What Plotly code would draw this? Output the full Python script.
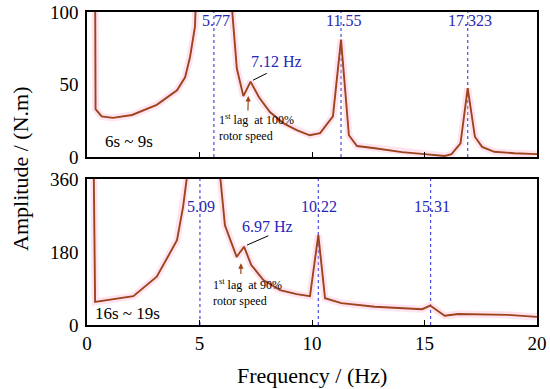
import plotly.graph_objects as go

# ---------------- data ----------------
freq_top = [0.0, 0.3, 0.38, 0.65, 1.15, 2.0, 3.1, 4.0, 4.36, 4.58, 4.8, 5.0, 5.64, 6.3, 6.66,
            6.95, 7.27, 7.65, 8.13, 8.72, 9.32, 9.9, 10.36, 10.93, 11.29, 11.64, 12.0,
            12.8, 14.0, 15.0, 15.9, 16.2, 16.6, 16.92, 17.24, 17.56, 18.1, 19.0, 20.0]
amp_top = [600, 400, 33, 28, 27, 29, 36, 46, 55, 69, 90, 130, 500, 130, 61,
           42, 52, 41, 31, 23.4, 18.6, 15, 16.5, 28, 81, 15, 7.6,
           6, 3.4, 2, 0.7, 2, 9.4, 47.5, 14, 7, 3.6, 2.6, 2]

freq_bot = [0.0, 0.2, 0.36, 2.06, 3.1, 4.0, 4.27, 4.43, 4.7, 5.02, 5.5, 5.93, 6.13, 6.36,
            6.65, 6.98, 7.3, 7.84, 8.58, 9.32, 9.91, 10.28, 10.58, 11.3, 12.8, 14.9,
            15.25, 15.9, 16.5, 18.7, 20.0]
amp_bot = [2000, 900, 57, 71, 119, 209, 291, 360, 700, 1500, 700, 360, 246, 212,
           168, 193, 148, 111, 86, 76, 71, 222, 66, 54, 45, 39,
           48, 23, 27, 25, 20]

peak_lines_top = [5.64, 11.29, 16.92]
peak_labels_top = ["5.77", "11.55", "17.323"]
peak_lines_bot = [5.02, 10.28, 15.27]
peak_labels_bot = ["5.09", "10.22", "15.31"]

x_ticks = [0, 5, 10, 15, 20]
y_ticks_top = [0, 50, 100]
y_ticks_bot = [0, 180, 360]

# ---------------- style ----------------
SERIF = "Liberation Serif, Times New Roman, serif"
LINE_C = "#9c451d"
HALO_C = "rgba(255,175,210,0.35)"
BLUE_T = "#2626b8"
BLUE_L = "#4a4ae0"

fig = go.Figure()

for xs, ys, xa, ya in [(freq_top, amp_top, "x", "y"), (freq_bot, amp_bot, "x2", "y2")]:
    fig.add_trace(go.Scatter(x=xs, y=ys, xaxis=xa, yaxis=ya, mode="lines",
                             line=dict(color=HALO_C, width=7), hoverinfo="skip",
                             showlegend=False))
    fig.add_trace(go.Scatter(x=xs, y=ys, xaxis=xa, yaxis=ya, mode="lines",
                             line=dict(color=LINE_C, width=1.9), showlegend=False))

shapes = []
annotations = []

# dotted peak lines + labels
for xv, lab in zip(peak_lines_top, peak_labels_top):
    shapes.append(dict(type="line", xref="x", yref="y domain", x0=xv, x1=xv, y0=0, y1=1,
                       line=dict(color=BLUE_L, width=1.2, dash="dot"), layer="below"))
    annotations.append(dict(x=xv + 0.1, y=94, xref="x", yref="y", text=lab, showarrow=False,
                            font=dict(family=SERIF, size=16, color=BLUE_T)))
for xv, lab in zip(peak_lines_bot, peak_labels_bot):
    shapes.append(dict(type="line", xref="x2", yref="y2 domain", x0=xv, x1=xv, y0=0, y1=1,
                       line=dict(color=BLUE_L, width=1.2, dash="dot"), layer="below"))
    annotations.append(dict(x=xv + 0.05, y=293, xref="x2", yref="y2", text=lab, showarrow=False,
                            font=dict(family=SERIF, size=16, color=BLUE_T)))

# 1st lag annotations (top)
annotations.append(dict(x=8.43, y=66, xref="x", yref="y", text="7.12 Hz", showarrow=False,
                        font=dict(family=SERIF, size=16, color=BLUE_T)))
shapes.append(dict(type="line", xref="x", yref="y", x0=7.38, y0=53, x1=7.99, y1=57.7,
                   line=dict(color="black", width=1)))
annotations.append(dict(x=7.17, y=42, ax=7.15, ay=31, xref="x", yref="y", axref="x", ayref="y",
                        text="", showarrow=True, arrowhead=2, arrowsize=0.9, arrowwidth=1.2,
                        arrowcolor=LINE_C))
annotations.append(dict(x=5.76, y=20.3, xref="x", yref="y", xanchor="left", yanchor="middle",
                        align="left", showarrow=False,
                        text="1<sup>st</sup> lag  at 100%<br>rotor speed",
                        font=dict(family=SERIF, size=12, color="black")))
annotations.append(dict(x=0.71, y=11, xref="x", yref="y", xanchor="left", text="6s ~ 9s",
                        showarrow=False, font=dict(family=SERIF, size=17, color="black")))

# 1st lag annotations (bottom)
annotations.append(dict(x=8.04, y=242, xref="x2", yref="y2", text="6.97 Hz", showarrow=False,
                        font=dict(family=SERIF, size=16, color=BLUE_T)))
shapes.append(dict(type="line", xref="x2", yref="y2", x0=7.11, y0=197, x1=8.06, y1=220,
                   line=dict(color="black", width=1)))
annotations.append(dict(x=6.84, y=152, ax=6.84, ay=122, xref="x2", yref="y2", axref="x2", ayref="y2",
                        text="", showarrow=True, arrowhead=2, arrowsize=0.9, arrowwidth=1.2,
                        arrowcolor=LINE_C))
annotations.append(dict(x=5.5, y=79, xref="x2", yref="y2", xanchor="left", yanchor="middle",
                        align="left", showarrow=False,
                        text="1<sup>st</sup> lag  at 90%<br>rotor speed",
                        font=dict(family=SERIF, size=12, color="black")))
annotations.append(dict(x=0.27, y=28, xref="x2", yref="y2", xanchor="left", text="16s ~ 19s",
                        showarrow=False, font=dict(family=SERIF, size=17, color="black")))

# axis titles
annotations.append(dict(x=-0.148, y=0.5, xref="paper", yref="paper", xanchor="center",
                        yanchor="middle", text="Amplitude / (N.m)",
                        textangle=-90, showarrow=False,
                        font=dict(family=SERIF, size=22, color="black")))
annotations.append(dict(x=0.5, y=-0.16, xref="paper", yref="paper", xanchor="center",
                        yanchor="middle", text="Frequency / (Hz)",
                        showarrow=False, font=dict(family=SERIF, size=22, color="black")))

axis_common = dict(showline=True, linecolor="black", linewidth=1.5, mirror=True,
                   showgrid=False, zeroline=False, automargin=False,
                   ticklabeloverflow="allow")

fig.update_layout(
    width=550, height=389,
    margin=dict(l=87, r=13, t=12, b=64),
    paper_bgcolor="white", plot_bgcolor="white",
    font=dict(family=SERIF, size=19, color="black"),
    xaxis=dict(domain=[0, 1], anchor="y", range=[0, 20], tickvals=x_ticks[1:-1],
               ticks="inside", ticklen=5, tickcolor="black", showticklabels=False, **axis_common),
    yaxis=dict(domain=[0.5367, 1], anchor="x", range=[0, 100], tickvals=y_ticks_top,
               ticks="", ticklabelstandoff=3, **axis_common),
    xaxis2=dict(domain=[0, 1], anchor="y2", range=[0, 20], tickvals=x_ticks,
                ticks="inside", ticklen=5, tickcolor="black", **axis_common),
    yaxis2=dict(domain=[0, 0.4665], anchor="x2", range=[0, 360], tickvals=y_ticks_bot,
                ticks="", ticklabelstandoff=3, **axis_common),
    shapes=shapes,
    annotations=annotations,
)

# remove the default page margin so the figure sits at the window's top-left corner
fig.write_html("out.html", config={"displayModeBar": False},
               post_script="document.body.style.margin='0';document.body.style.padding='0';")
